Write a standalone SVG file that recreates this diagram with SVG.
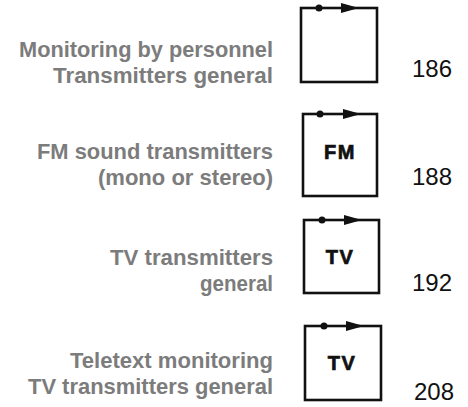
<svg xmlns="http://www.w3.org/2000/svg" width="468" height="407" viewBox="0 0 468 407">
<style>
.lbl{font-family:"Liberation Sans",Arial,sans-serif;font-weight:bold;font-size:22px;fill:#7c7c7c;text-anchor:end}
.num{font-family:"Liberation Sans",Arial,sans-serif;font-size:24px;fill:#111}
.box{fill:#fff;stroke:#111;stroke-width:2.6}
.tag{font-family:"Liberation Sans",Arial,sans-serif;font-weight:bold;font-size:20px;fill:#111;stroke:#111;stroke-width:0.7;text-anchor:middle;letter-spacing:1.5px}
.dot{fill:#111}
.head{fill:#111}
</style>
<g id="node-186">
<text class="lbl" x="273" y="57" textLength="254" lengthAdjust="spacingAndGlyphs">Monitoring by personnel</text>
<text class="lbl" x="273" y="83" textLength="220" lengthAdjust="spacingAndGlyphs">Transmitters general</text>
<rect class="box" x="301" y="8" width="76" height="74"/>
<circle class="dot" cx="319" cy="8" r="3.5"/>
<polygon class="head" points="341,3 359,8 341,13"/>
<text class="num" x="412" y="77">186</text>
</g>
<g id="node-188">
<text class="lbl" x="273" y="159" textLength="236" lengthAdjust="spacingAndGlyphs">FM sound transmitters</text>
<text class="lbl" x="273" y="185" textLength="175" lengthAdjust="spacingAndGlyphs">(mono or stereo)</text>
<rect class="box" x="303" y="114" width="74" height="82"/>
<circle class="dot" cx="320" cy="114" r="3.5"/>
<polygon class="head" points="343,109 361,114 343,119"/>
<text class="tag" x="340" y="159">FM</text>
<text class="num" x="412" y="185">188</text>
</g>
<g id="node-192">
<text class="lbl" x="273" y="265" textLength="163" lengthAdjust="spacingAndGlyphs">TV transmitters</text>
<text class="lbl" x="273" y="291" textLength="73" lengthAdjust="spacingAndGlyphs">general</text>
<rect class="box" x="304" y="220" width="75" height="73"/>
<circle class="dot" cx="322" cy="220" r="3.5"/>
<polygon class="head" points="344,215 362,220 344,225"/>
<text class="tag" x="340" y="264">TV</text>
<text class="num" x="412" y="291">192</text>
</g>
<g id="node-208">
<text class="lbl" x="273" y="368" textLength="203" lengthAdjust="spacingAndGlyphs">Teletext monitoring</text>
<text class="lbl" x="273" y="394" textLength="245" lengthAdjust="spacingAndGlyphs">TV transmitters general</text>
<rect class="box" x="305" y="326" width="76" height="74"/>
<circle class="dot" cx="324" cy="326" r="3.5"/>
<polygon class="head" points="346,321 364,326 346,331"/>
<text class="tag" x="342" y="370">TV</text>
<text class="num" x="414" y="400">208</text>
</g>
<g id="connectors"></g>
</svg>
